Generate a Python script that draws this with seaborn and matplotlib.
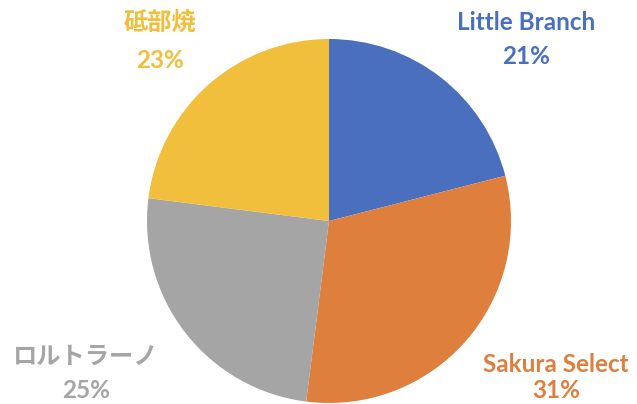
import matplotlib
matplotlib.use("Agg")
import matplotlib.pyplot as plt
import seaborn as sns

# share of each brand
brands = ["Little Branch", "Sakura Select", "ロルトラーノ", "砥部焼"]
shares = [21, 31, 25, 23]
colors = ["#4A6FBF", "#DE7F3E", "#A5A5A5", "#F2BF3D"]

sns.set_theme(style="white")
plt.rcParams["font.family"] = ["Lato", "Noto Sans CJK JP", "DejaVu Sans"]

fig = plt.figure(figsize=(6.37, 4.04), dpi=100)
ax = fig.add_axes([147 / 637, 1 / 404, 364 / 637, 364 / 404])

wedges, _ = ax.pie(shares, colors=colors, startangle=90, counterclock=False,
                   wedgeprops=dict(linewidth=0))
ax.set_xlim(-1, 1)
ax.set_ylim(-1, 1)
ax.set_aspect("equal")
ax.axis("off")

# label positions in pixels: x center, y of name, y of percent
label_pos = [(526, 22, 56), (556, 364, 391), (86, 356, 390), (160, 22, 60)]
total = sum(shares)
for name, val, col, (px, py, qy) in zip(brands, shares, colors, label_pos):
    pct = f"{val / total * 100:.0f}%"
    fig.text(px / 637, 1 - py / 404, name, ha="center", va="center",
             color=col, fontsize=17.5, fontweight="bold")
    fig.text(px / 637, 1 - qy / 404, pct, ha="center", va="center",
             color=col, fontsize=17.5, fontweight="bold")

fig.savefig("out.png", dpi=100)
plt.close(fig)
